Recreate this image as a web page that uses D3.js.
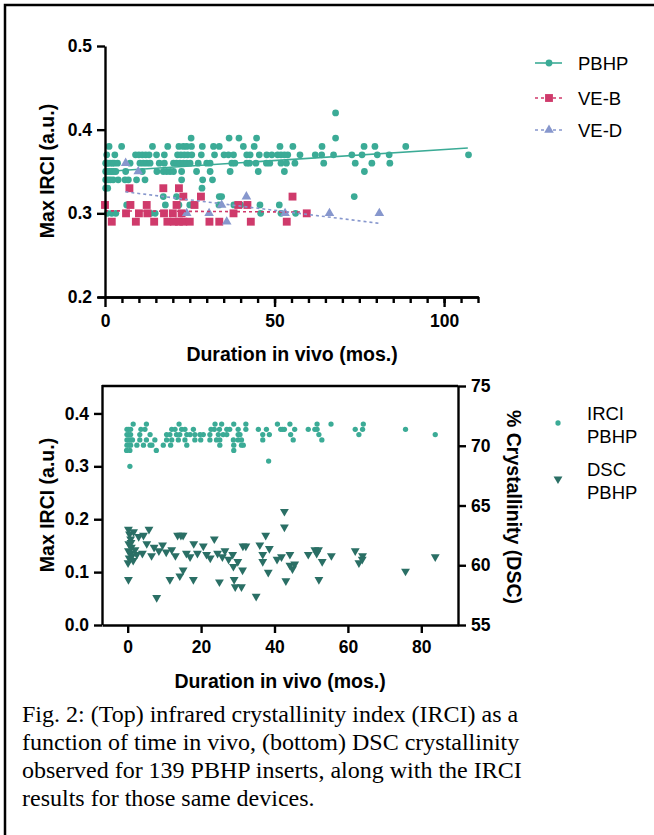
<html>
<head>
    <script src="https://cdnjs.cloudflare.com/ajax/libs/d3/7.8.5/d3.min.js"></script>
    <style>
        body { margin: 0; background: #fff; }
    </style>
</head>
<body>
<script>

    /*
     * top panel - IRCI per device type, grouped by IRCI row (values are in 0.01 steps)
     * each entry: [IRCI, [durations in months]]
     */
    var topPbhp = [
        [0.42, [68]],
        [0.39, [25.4, 36.6, 39.5, 44.7, 68]],
        [0.38, [1.2, 4.9, 14, 18.5, 21.8, 23.1, 24.1, 25.5, 28.7, 32, 33.7, 40.8, 44, 51.6, 55.4, 64, 76.4, 79.6, 88.7]],
        [0.37, [0.5, 2.9, 9, 10, 11, 12, 13, 15.2, 17.5, 21.4, 22.4, 23.4, 24.4, 25.6, 28.4, 32.3, 35.1, 36.4, 37.9,
                41.8, 42.8, 45.5, 47.7, 49.2, 50.9, 51.9, 52.9, 53.9, 57.5, 62, 63.9, 67.4, 72.8, 75.8, 80.3, 83.8, 107.2]],
        [0.36, [0.2, 0.5, 0.8, 1.5, 2.2, 2.7, 3.7, 7.4, 10.3, 11.3, 12.3, 13.3, 16, 17.5, 20.2, 21.1, 22.1, 23.1, 24.1, 25.1,
                27.5, 30, 31, 37.4, 38.3, 41.8, 42.6, 44.5, 47.6, 48.6, 51.9, 53.5, 56, 64.5, 73.8, 78.7, 84]],
        [0.35, [0.2, 0.8, 1.4, 2, 2.6, 3.2, 6.1, 11, 15.3, 17.2, 18.2, 19.2, 20.2, 22.6, 27, 31, 36.9, 45.2, 52.9, 76.5]],
        [0.34, [0.2, 0.9, 1.6, 2.4, 3.9, 5.9, 6.9, 9.3, 11.8, 22.6, 28.8, 31.7]],
        [0.33, [0.2, 0.8, 28.6]],
        [0.32, [17.2, 21.1, 23.1, 33.7, 34.4, 73.5]],
        [0.31, [6.4, 17.8, 21.8, 25, 33.6, 38, 40, 45.7, 51.4]],
        [0.30, [0.7, 2, 3.2, 13.5, 14.8, 45.9, 51.9, 56.2]]
    ];

    var topVeB = [
        [0.33, [7.2, 17.2, 21.8]],
        [0.32, [23.1, 28.3, 55.3]],
        [0.31, [0, 7.5, 12.3, 21.1, 26.4, 39.3, 42]],
        [0.30, [6.2, 10, 12.5, 17.4, 20, 22.6, 37.9, 59.5]],
        [0.29, [2, 9.1, 14.5, 18.4, 20.3, 21.8, 23.1, 25, 30.8, 33.7, 43, 53.6]]
    ];

    var topVeD = [
        [0.36, [6.1]],
        [0.35, [9.8]],
        [0.32, [41.7]],
        [0.31, [34.4]],
        [0.30, [24.1, 30.7, 53.1, 66.2, 80.9]],
        [0.29, [35.9]]
    ];

    var fitPbhp = [[0, 0.350], [107, 0.378]];
    var fitVeB = [[0, 0.303], [59.5, 0.3015]];
    var fitVeD = [[6, 0.3257], [81, 0.288]];

    /*
     * bottom panel - PBHP inserts, IRCI (left axis) and DSC crystallinity (right axis)
     */
    var botIrci = [
        [0.38, [1.5, 5.1, 14, 23.8, 25.6, 28.9, 32.2, 40.8, 44.2, 51.6, 55.4, 64.2]],
        [0.37, [-0.2, 0.3, 0.8, 3.6, 4.7, 12, 12.9, 14.7, 15.6, 17.9, 22.7, 23.6, 25, 27, 27.8, 30.1, 32.2, 35.6, 37.8,
                41.7, 42.2, 42.7, 45.5, 49.2, 51, 51.6, 62, 64, 75.7]],
        [0.36, [-0.2, 0.3, 0.8, 3.3, 6.1, 10.6, 11.5, 13.3, 14.2, 16.1, 17, 18.3, 19.7, 20.6, 22.4, 24.7, 26, 27,
                30.1, 30.6, 36.8, 38.6, 44.4, 52.1, 63, 83.8]],
        [0.35, [-0.2, 0.3, 0.8, 1.3, 3.3, 5.1, 7.4, 10.6, 12, 13.8, 15.6, 18.3, 19.9, 22.4, 24.2, 25.1, 28.8, 30.1, 31,
                36.8, 45.1, 52.9]],
        [0.34, [-0.2, 0.3, 0.8, 2.5, 4.3, 6.1, 6.6, 9.7, 11.7, 16.1, 25.1, 28.9, 31, 31.5]],
        [0.33, [-0.3, 0.6, 7.8, 28.9]],
        [0.31, [38.4]],
        [0.30, [0.6]]
    ];

    // DSC crystallinity (%) points: [months, %]
    var botDsc = [
        [0.2, 63.0], [0.5, 62.6], [0.8, 62.2], [0.3, 61.8], [1.0, 61.5], [0.2, 61.2], [0.7, 61.0], [1.2, 60.8],
        [0.4, 60.6], [1.5, 60.4], [0.1, 60.2], [0.9, 61.9], [1.6, 62.8], [2.0, 61.3], [2.5, 60.9], [0.2, 58.8],
        [3, 62.4], [4.3, 62.5], [5.8, 63.0], [5.2, 61.8], [4, 61.0], [6.5, 60.8], [7.2, 61.5], [7.9, 57.3],
        [8.5, 61.2], [9.5, 61.7], [10.5, 61.1], [11.5, 58.8], [12, 61.3], [13, 60.8], [13.6, 62.5], [14.5, 62.5],
        [15.1, 62.5], [14.2, 59.1], [15.1, 59.6], [16, 61.0], [17, 60.7], [17.9, 58.8], [18, 61.8], [19, 61.0],
        [20.6, 61.6], [21.5, 60.9], [22.5, 60.6], [23.6, 62.2], [24.5, 61.0], [25, 58.6], [25.8, 60.7], [26.5, 61.2],
        [27.5, 60.5], [28.6, 60.9], [28.8, 59.9], [29, 58.8], [29.3, 58.2], [30, 60.3], [31, 58.2], [31.4, 61.6],
        [31.3, 59.6], [32.2, 61.6], [35, 57.4], [36, 61.7], [36.8, 60.9], [36.8, 60.3], [37.6, 62.5], [38.3, 59.4],
        [38.6, 61.4], [40.7, 60.5], [41.9, 60.7], [42.7, 64.5], [42.7, 63.2], [43.1, 58.7], [44.2, 60.9], [44.2, 60.0],
        [44.9, 59.7], [45.5, 60.1], [49.2, 60.9], [51, 61.3], [51.5, 61.0], [52, 61.3], [53, 60.3], [52.1, 58.8],
        [55.5, 60.8], [62, 61.2], [63, 60.2], [63.9, 60.5], [64, 60.8], [75.7, 59.5], [83.8, 60.7]
    ];

    // tick labels
    var topYTicks = [0.2, 0.3, 0.4, 0.5];
    var topXTicks = [0, 50, 100];
    var botXTicks = [0, 20, 40, 60, 80];
    var botYTicks = [0.0, 0.1, 0.2, 0.3, 0.4];
    var botRTicks = [55, 60, 65, 70, 75];

    var topLegend = ["PBHP", "VE-B", "VE-D"];
    var captionLines = [
        "Fig. 2: (Top) infrared crystallinity index (IRCI) as a",
        "function of time in vivo, (bottom) DSC crystallinity",
        "observed for 139 PBHP inserts, along with the IRCI",
        "results for those same devices."
    ];

    // colours
    var cPbhp = "#3bab96", cVeB = "#cf3a6b", cVeD = "#8797cd", cDsc = "#2a6f65";
    var sansFont = "'Liberation Sans', Arial, sans-serif";

    // turn [value, [x...]] rows into [x, value] points
    function flatRows(rows) {
        var out = [];
        rows.forEach(function (r) {
            r[1].forEach(function (x) { out.push([x, r[0]]); });
        });
        return out;
    }

    var svg = d3.select("body")
        .append("svg")
        .attr("width", 654)
        .attr("height", 835);

    svg.append("rect").attr("width", 654).attr("height", 835).attr("fill", "#fff");

    // frame round the figure
    svg.append("path")
        .attr("d", "M5,835V5H654")
        .attr("fill", "none")
        .attr("stroke", "#000")
        .attr("stroke-width", 2.5);

    function styleAxis(g) {
        g.attr("font-family", sansFont).attr("font-size", 17.5).attr("font-weight", "bold");
        g.select(".domain").attr("stroke", "#000").attr("stroke-width", 2.4);
        g.selectAll(".tick line").attr("stroke", "#000").attr("stroke-width", 2.4);
        g.selectAll(".tick text").attr("fill", "#000");
    }

    function axisTitle(x, y, rot, txt) {
        svg.append("text")
            .attr("transform", "translate(" + x + "," + y + ") rotate(" + rot + ")")
            .attr("text-anchor", "middle")
            .attr("font-family", sansFont)
            .attr("font-weight", "bold")
            .attr("font-size", 19.5)
            .text(txt);
    }

    /*
     * ---------- top panel ----------
     */
    var xTop = d3.scaleLinear().domain([0, 110]).range([105, 478]);
    var yTop = d3.scaleLinear().domain([0.2, 0.5]).range([297, 46]);

    var topGroup = svg.append("g");

    // fit lines first, markers on top
    var lineTop = d3.line().x(d => xTop(d[0])).y(d => yTop(d[1]));

    topGroup.append("path").datum(fitPbhp).attr("d", lineTop)
        .attr("fill", "none").attr("stroke", cPbhp).attr("stroke-width", 1.6);

    var sym = d3.symbol();

    topGroup.selectAll(".pbhp")
        .data(flatRows(topPbhp))
        .enter().append("path")
        .attr("d", sym.type(d3.symbolCircle).size(36)())
        .attr("transform", d => "translate(" + xTop(d[0]) + "," + yTop(d[1]) + ")")
        .attr("fill", cPbhp);

    topGroup.selectAll(".veb")
        .data(flatRows(topVeB))
        .enter().append("path")
        .attr("d", d3.symbol().type(d3.symbolSquare).size(62)())
        .attr("transform", d => "translate(" + xTop(d[0]) + "," + yTop(d[1]) + ")")
        .attr("fill", cVeB);

    topGroup.selectAll(".ved")
        .data(flatRows(topVeD))
        .enter().append("path")
        .attr("d", d3.symbol().type(d3.symbolTriangle).size(40)())
        .attr("transform", d => "translate(" + xTop(d[0]) + "," + yTop(d[1]) + ")")
        .attr("fill", cVeD);

    topGroup.append("path").datum(fitVeB).attr("d", lineTop)
        .attr("fill", "none").attr("stroke", cVeB).attr("stroke-width", 1.6).attr("stroke-dasharray", "3,3");
    topGroup.append("path").datum(fitVeD).attr("d", lineTop)
        .attr("fill", "none").attr("stroke", cVeD).attr("stroke-width", 1.6).attr("stroke-dasharray", "3,3");

    // axes
    var topYAxis = svg.append("g").attr("transform", "translate(105,0)")
        .call(d3.axisLeft(yTop).tickValues(topYTicks).tickFormat(d3.format(".1f"))
            .tickSize(8).tickSizeOuter(0).tickPadding(5));
    styleAxis(topYAxis);

    // minor ticks every 5 months
    var topXMinor = svg.append("g").attr("transform", "translate(0,297)")
        .call(d3.axisBottom(xTop).tickValues(d3.range(5, 111, 5)).tickFormat("")
            .tickSize(6).tickSizeOuter(0));
    styleAxis(topXMinor);

    var topXAxis = svg.append("g").attr("transform", "translate(0,297)")
        .call(d3.axisBottom(xTop).tickValues(topXTicks).tickFormat(d3.format("d"))
            .tickSize(10).tickSizeOuter(0).tickPadding(8));
    styleAxis(topXAxis);
    topXAxis.select(".domain").attr("d", "M98,0.5H479");

    axisTitle(292, 361, 0, "Duration in vivo (mos.)");
    axisTitle(54, 171, -90, "Max IRCI (a.u.)");

    // legend
    var legY = [63, 98, 130];
    var legCol = [cPbhp, cVeB, cVeD];
    var legSym = [d3.symbolCircle, d3.symbolSquare, d3.symbolTriangle];
    var legSize = [36, 62, 40];
    topLegend.forEach(function (name, i) {
        var g = svg.append("g").attr("transform", "translate(0," + legY[i] + ")");
        g.append("line").attr("x1", 535).attr("x2", 562)
            .attr("stroke", legCol[i]).attr("stroke-width", 1.6)
            .attr("stroke-dasharray", i == 0 ? null : "3,3");
        g.append("path").attr("d", d3.symbol().type(legSym[i]).size(legSize[i])())
            .attr("transform", "translate(549,0)").attr("fill", legCol[i]);
        g.append("text").attr("x", 578).attr("y", 6.5)
            .attr("font-family", sansFont).attr("font-size", 18.5)
            .text(name);
    });

    /*
     * ---------- bottom panel ----------
     */
    var xBot = d3.scaleLinear().domain([-7, 90]).range([102, 458]);
    var yBotL = d3.scaleLinear().domain([0, 0.45]).range([625, 387]);
    var yBotR = d3.scaleLinear().domain([55, 75]).range([625, 386]);

    svg.selectAll(".irci")
        .data(flatRows(botIrci))
        .enter().append("path")
        .attr("d", d3.symbol().type(d3.symbolCircle).size(22)())
        .attr("transform", d => "translate(" + xBot(d[0]) + "," + yBotL(d[1]) + ")")
        .attr("fill", cPbhp);

    svg.selectAll(".dsc")
        .data(botDsc)
        .enter().append("path")
        .attr("d", d3.symbol().type(d3.symbolTriangle).size(34)())
        .attr("transform", d => "translate(" + xBot(d[0]) + "," + yBotR(d[1]) + ") rotate(180)")
        .attr("fill", cDsc);

    // top edge of the bottom frame
    svg.append("line").attr("x1", 102).attr("x2", 458).attr("y1", 386).attr("y2", 386)
        .attr("stroke", "#000").attr("stroke-width", 2.4);

    var botYAxis = svg.append("g").attr("transform", "translate(102,0)")
        .call(d3.axisLeft(yBotL).tickValues(botYTicks).tickFormat(d3.format(".1f"))
            .tickSize(8).tickSizeOuter(0).tickPadding(5));
    styleAxis(botYAxis);
    botYAxis.select(".domain").attr("d", "M0.5,625V385");

    var botRAxis = svg.append("g").attr("transform", "translate(458,0)")
        .call(d3.axisRight(yBotR).tickValues(botRTicks).tickFormat(d3.format("d"))
            .tickSize(8).tickSizeOuter(0).tickPadding(5));
    styleAxis(botRAxis);

    var botXAxis = svg.append("g").attr("transform", "translate(0,625)")
        .call(d3.axisBottom(xBot).tickValues(botXTicks).tickFormat(d3.format("d"))
            .tickSize(8).tickSizeOuter(0).tickPadding(8));
    styleAxis(botXAxis);

    axisTitle(280, 688, 0, "Duration in vivo (mos.)");
    axisTitle(54, 505, -90, "Max IRCI (a.u.)");
    axisTitle(507, 507, 90, "% Crystallinity (DSC)");

    // bottom legend
    svg.append("path").attr("d", d3.symbol().type(d3.symbolCircle).size(22)())
        .attr("transform", "translate(558,423)").attr("fill", cPbhp);
    svg.append("path").attr("d", d3.symbol().type(d3.symbolTriangle).size(34)())
        .attr("transform", "translate(558,479) rotate(180)").attr("fill", cDsc);

    [["IRCI", 420], ["PBHP", 443], ["DSC", 476], ["PBHP", 499]].forEach(function (t) {
        svg.append("text").attr("x", 587).attr("y", t[1])
            .attr("font-family", sansFont).attr("font-size", 18.5)
            .text(t[0]);
    });

    /*
     * caption under the figure
     */
    svg.selectAll(".caption")
        .data(captionLines)
        .enter().append("text")
        .attr("x", 22)
        .attr("y", (d, i) => 722 + i * 28)
        .attr("font-family", "'Liberation Serif', 'Times New Roman', serif")
        .attr("font-size", 24)
        .text(d => d);

</script>
</body>
</html>
